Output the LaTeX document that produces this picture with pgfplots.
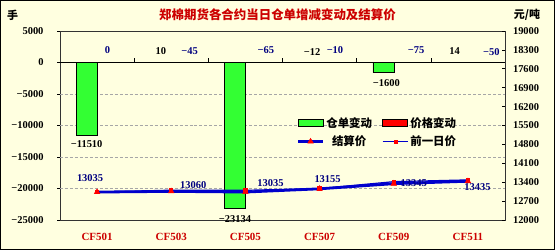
\documentclass[border=0pt]{standalone}
\usepackage{pgfplots}
\pgfplotsset{compat=1.18}
\usepackage{pgfplotstable}
\usepackage{fontspec}
\setmainfont{Liberation Serif}
\newfontfamily\cjk{Noto Sans CJK SC}
\definecolor{bg}{RGB}{255,255,224}
\definecolor{wgreen}{RGB}{51,255,51}
\definecolor{navy}{RGB}{0,0,128}
\definecolor{lblue}{RGB}{0,0,204}
\definecolor{tred}{RGB}{204,0,0}
\pgfplotsset{mylegline/.style={legend image code/.code={\draw[mark repeat=2, mark phase=2, ##1] plot coordinates {(0bp,0bp) (12.5bp,0bp) (25bp,0bp)};}}}

\pgfplotstableread{
x warrant wlab wdx wdy price plab pdx pdy settle slab sdx sdy prev
0 -11510 −11510 -10.4 -9.5 0 0 10.4 12 13035 13035 -7 14 13035
1 10 10 -10.4 11 -45 −45 18.4 12 13060 13060 22 6 13105
2 -23134 −23134 -10.4 -11 -65 −65 20.4 13 13035 13035 25 9 13100
3 -12 −12 -7.4 11 -10 −10 15.4 12 13155 13155 8 10 13165
4 -1600 −1600 -7.4 -10 -75 −75 22.4 13 13345 13345 20 1 13420
5 14 14 -13.4 11 -50 −50 23.4 11 13435 13435 9.5 -6 13485
}\data

\begin{document}
\begin{tikzpicture}
\draw[fill=bg, line width=1bp] (0.5bp,0.5bp) rectangle (554.5bp,249.5bp);
\node[text=tred, font=\cjk\bfseries\fontsize{12.5}{14}\selectfont] at (277.5bp,235bp) {郑棉期货各合约当日仓单增减变动及结算价};
\node[font=\cjk\bfseries\fontsize{11}{12}\selectfont] at (12.5bp,235bp) {手};
\node[font=\cjk\bfseries\fontsize{11}{12}\selectfont] at (527bp,235bp) {元/吨};

\begin{axis}[
  at={(60bp,30bp)}, anchor=south west, scale only axis,
  width=445bp, height=189bp,
  xmin=-0.5, xmax=5.5, ymin=-25000, ymax=5000,
  axis line style={black!80, line width=0.8bp},
  scaled y ticks=false,
  xtick={0,...,5},
  xticklabels={CF501,CF503,CF505,CF507,CF509,CF511},
  xtick style={draw=none},
  x tick label style={font=\fontsize{11}{12}\selectfont\bfseries, text=tred, yshift=-7bp},
  ytick pos=left,
  ytick={-25000,-20000,-15000,-10000,-5000,0,5000},
  yticklabels={−25000,−20000,−15000,−10000,−5000,0,5000},
  y tick label style={font=\fontsize{10.5}{12}\selectfont\bfseries, xshift=-10bp},
  tick align=outside, major tick length=3bp,
  ytick style={black, line width=0.6bp},
  extra y ticks={-20000,-15000,-10000,-5000},
  extra y tick labels={},
  extra y tick style={grid=major, tick style={draw=none}},
  major grid style={densely dashed, gray!70},
  clip=false,
]
\addplot[ybar, bar width=0.28, bar shift=-0.14, fill=wgreen, draw=black, line width=0.5bp,
  nodes near coords, point meta=explicit symbolic,
  visualization depends on={\thisrow{wdx} \as \mydx},
  visualization depends on={\thisrow{wdy} \as \mydy},
  every node near coord/.style={anchor=center, inner sep=0pt, text=black,
     font=\fontsize{10.5}{12}\selectfont\bfseries, xshift=\mydx bp, yshift=\mydy bp}]
  table[x=x, y=warrant, meta=wlab] {\data};
\addplot[ybar, bar width=0.28, bar shift=0.14, fill=red, draw=none,
  nodes near coords, point meta=explicit symbolic,
  visualization depends on={\thisrow{pdx} \as \mydx},
  visualization depends on={\thisrow{pdy} \as \mydy},
  every node near coord/.style={anchor=center, inner sep=0pt, text=navy,
     font=\fontsize{10.5}{12}\selectfont\bfseries, xshift=\mydx bp, yshift=\mydy bp}]
  table[x=x, y=price, meta=plab] {\data};
\draw[black, line width=0.8bp] (axis cs:-0.5,0) -- (axis cs:5.5,0);
\pgfplotsinvokeforeach{0.5,1.5,2.5,3.5,4.5}{\draw[black, line width=0.6bp] (axis cs:#1,0) -- ++(0pt,4bp);}
\end{axis}

\begin{axis}[
  at={(60bp,30bp)}, anchor=south west, scale only axis,
  width=445bp, height=189bp,
  xmin=-0.5, xmax=5.5, ymin=12000, ymax=19000,
  axis x line=none, axis y line*=right,
  y axis line style={black!80, line width=0.8bp},
  scaled y ticks=false,
  ytick={12000,12700,...,19000},
  yticklabels={12000,12700,13400,14100,14800,15500,16200,16900,17600,18300,19000},
  y tick label style={font=\fontsize{10.5}{12}\selectfont\bfseries, xshift=4.5bp},
  ytick style={black, line width=0.6bp},
  tick align=inside, major tick length=3bp,
  legend columns=2,
  legend style={at={(0.525,0.565)}, anchor=north west, draw=none, fill=none,
    font=\cjk\bfseries\fontsize{11.5}{13}\selectfont,
    /tikz/every even column/.append style={column sep=8bp}, row sep=3bp},
  clip=false,
]
\addlegendimage{legend image code/.code={\draw[fill=wgreen, draw=black, line width=0.5bp] (0bp,-3.5bp) rectangle (25bp,3.5bp);}}
\addlegendimage{legend image code/.code={\draw[fill=red, draw=black, line width=0.5bp] (0bp,-3.5bp) rectangle (25bp,3.5bp);}}
\addlegendimage{lblue, line width=2.5bp, mark=triangle*, mark size=3.2bp, mark options={red, line width=0.5bp}, mylegline}
\addlegendimage{lblue, line width=1.2bp, mark=square*, mark size=1.5bp, mark options={red, line width=0.3bp}, mylegline}
\addplot[lblue, line width=1.2bp, mark=square*, mark size=1.5bp, mark options={red}, forget plot]
  table[x=x, y=prev] {\data};
\addplot[lblue, line width=2.8bp, mark=triangle*, mark size=3.2bp, mark options={red, line width=0.5bp}, forget plot,
  nodes near coords, point meta=explicit symbolic,
  visualization depends on={\thisrow{sdx} \as \mydx},
  visualization depends on={\thisrow{sdy} \as \mydy},
  every node near coord/.style={anchor=center, inner sep=0pt, text=navy,
     font=\fontsize{10.5}{12}\selectfont\bfseries, xshift=\mydx bp, yshift=\mydy bp}]
  table[x=x, y=settle, meta=slab] {\data};
\legend{仓单变动,价格变动,结算价,前一日价}
\end{axis}
\end{tikzpicture}
\end{document}
